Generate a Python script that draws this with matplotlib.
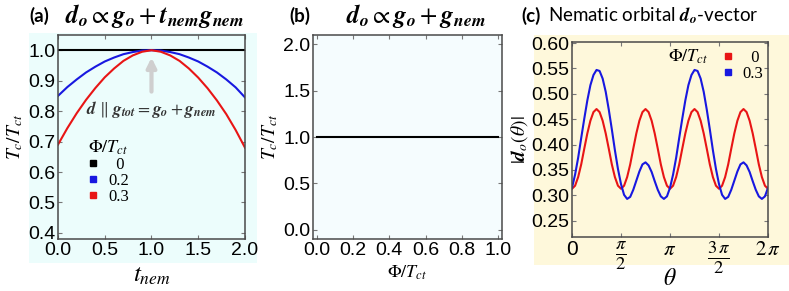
import numpy as np
import matplotlib
matplotlib.use('Agg')
import matplotlib.pyplot as plt
from matplotlib.lines import Line2D
from matplotlib.patches import Rectangle

plt.rcParams['mathtext.fontset'] = 'stix'
plt.rcParams['font.family'] = ['Liberation Sans', 'DejaVu Sans']

# (a) Tc/Tct vs t_nem
t_nem = [0.0, 0.1, 0.2, 0.3, 0.4, 0.5, 0.6, 0.7, 0.8, 0.9, 1.0,
         1.1, 1.2, 1.3, 1.4, 1.5, 1.6, 1.7, 1.8, 1.9, 2.0]
tc_phi0 = [1.0] * 21
tc_phi02 = [0.850, 0.879, 0.904, 0.927, 0.946, 0.963, 0.976, 0.987, 0.994, 0.999, 1.000,
            0.999, 0.994, 0.987, 0.976, 0.963, 0.946, 0.927, 0.904, 0.878, 0.845]
tc_phi03 = [0.690, 0.744, 0.793, 0.837, 0.876, 0.911, 0.940, 0.965, 0.983, 0.995, 1.000,
            0.995, 0.983, 0.965, 0.940, 0.910, 0.875, 0.835, 0.790, 0.738, 0.680]

# (b) Tc/Tct vs Phi/Tct
phi_b = [0.0, 0.2, 0.4, 0.6, 0.8, 1.0]
tc_b = [1.0, 1.0, 1.0, 1.0, 1.0, 1.0]

# (c) |d_o(theta)|, sampled every pi/32
red_period = [0.313, 0.319, 0.336, 0.361, 0.392, 0.422, 0.447, 0.464,
              0.470, 0.464, 0.447, 0.422, 0.392, 0.361, 0.336, 0.319]
blue_period = [0.315, 0.341, 0.374, 0.413, 0.451, 0.487, 0.517, 0.537,
               0.547, 0.545, 0.530, 0.504, 0.469, 0.430, 0.389, 0.352,
               0.322, 0.301, 0.293, 0.297, 0.311, 0.329, 0.347, 0.361,
               0.365, 0.359, 0.346, 0.328, 0.311, 0.298, 0.293, 0.298]
d_phi0 = red_period * 4 + [0.313]
d_phi03 = blue_period * 2 + [0.315]
theta = np.arange(65) * np.pi / 32

red = '#e81515'
blue = '#1818e0'
cyan_bg = '#ecfdfc'
yellow_bg = '#fef8db'
frame = '#4a4a4a'

fig = plt.figure(figsize=(7.89, 2.91), dpi=100)
fig.patches.append(Rectangle((0.037, 0.096), 0.289, 0.790, transform=fig.transFigure,
                             facecolor=cyan_bg, edgecolor='none', zorder=-10))
fig.patches.append(Rectangle((0.677, 0.089), 0.323, 0.790, transform=fig.transFigure,
                             facecolor=yellow_bg, edgecolor='none', zorder=-10))

axa = fig.add_axes([0.0735, 0.1787, 0.237, 0.701])
axb = fig.add_axes([0.3967, 0.1787, 0.2395, 0.701])
axc = fig.add_axes([0.725, 0.1856, 0.2484, 0.670])


def style(ax, bg):
    ax.set_facecolor(bg)
    for s in ax.spines.values():
        s.set_color(frame)
        s.set_linewidth(1.1)
    ax.tick_params(direction='in', length=3, width=0.8, color='#777777',
                   top=True, right=True, labelsize=14, pad=2, labelcolor='black')


# (a)
style(axa, cyan_bg)
axa.plot(t_nem, tc_phi0, color='black', lw=1.5)
axa.plot(t_nem, tc_phi02, color=blue, lw=1.5)
axa.plot(t_nem, tc_phi03, color=red, lw=1.5)
axa.set_xlim(0, 2)
axa.set_ylim(0.38, 1.05)
axa.set_xticks([0, 0.5, 1.0, 1.5, 2.0])
axa.set_xticklabels(['0.0', '0.5', '1.0', '1.5', '2.0'])
axa.set_yticks([0.4, 0.5, 0.6, 0.7, 0.8, 0.9, 1.0])
axa.set_yticklabels(['0.4', '0.5', '0.6', '0.7', '0.8', '0.9', '1.0'])
axa.set_xlabel(r'$t_{nem}$', fontsize=18)
axa.xaxis.set_label_coords(0.5, -0.12)
axa.set_ylabel(r'$T_c/T_{ct}$', fontsize=14, labelpad=2)
axa.annotate('', xy=(1.0, 0.985), xytext=(1.0, 0.855),
             arrowprops=dict(arrowstyle='-|>', color='#cfcfcf', lw=3, mutation_scale=14))
axa.text(1.0, 0.806, r'$\mathbfit{d}\ \Vert\ \mathbfit{g}_{\mathbfit{tot}} = \mathbfit{g}_{\mathbfit{o}} + \mathbfit{g}_{\mathbfit{nem}}$',
         fontsize=12.5, color='#333333', ha='center', va='center')
hands_a = [Line2D([], [], ls='none', marker='s', ms=4.5, color=c) for c in ['black', blue, red]]
leg = axa.legend(hands_a, ['  0', '0.2', '0.3'], title=r'$\Phi/T_{ct}$', loc='upper left',
                 bbox_to_anchor=(0.1, 0.55), frameon=False, title_fontsize=13,
                 handlelength=0.6, handletextpad=0.6, labelspacing=0.0, borderpad=0.2,
                 prop={'family': 'Liberation Serif', 'size': 12})
leg._legend_box.align = 'left'

# (b)
style(axb, '#f5fcfe')
axb.plot(phi_b, tc_b, color='black', lw=1.5)
axb.set_xlim(-0.02, 1.02)
axb.set_ylim(-0.1, 2.1)
axb.set_xticks([0, 0.2, 0.4, 0.6, 0.8, 1.0])
axb.set_xticklabels(['0.0', '0.2', '0.4', '0.6', '0.8', '1.0'])
axb.set_yticks([0, 0.5, 1.0, 1.5, 2.0])
axb.set_yticklabels(['0.0', '0.5', '1.0', '1.5', '2.0'])
axb.set_xlabel(r'$\Phi/T_{ct}$', fontsize=13)
axb.xaxis.set_label_coords(0.5, -0.12)
axb.set_ylabel(r'$T_c/T_{ct}$', fontsize=14, labelpad=2)

# (c)
style(axc, yellow_bg)
axc.plot(theta, d_phi0, color=red, lw=1.5)
axc.plot(theta, d_phi03, color=blue, lw=1.5)
axc.set_xlim(0, 2 * np.pi)
axc.set_ylim(0.218, 0.602)
axc.set_xticks([0, np.pi / 2, np.pi, 3 * np.pi / 2, 2 * np.pi])
axc.set_xticklabels(['0', r'$\frac{\pi}{2}$', r'$\pi$', r'$\frac{3\,\pi}{2}$', r'$2\,\pi$'])
for i, lab in enumerate(axc.get_xticklabels()):
    lab.set_fontsize(19 if i in (1, 3) else 15)
axc.set_yticks([0.25, 0.30, 0.35, 0.40, 0.45, 0.50, 0.55, 0.60])
axc.set_yticklabels(['0.25', '0.30', '0.35', '0.40', '0.45', '0.50', '0.55', '0.60'])
axc.set_xlabel(r'$\theta$', fontsize=17)
axc.xaxis.set_label_coords(0.5, -0.16)
axc.set_ylabel(r'$|\mathbfit{d}_o(\theta)|$', fontsize=14, labelpad=1)
axc.text(0.49, 0.925, r'$\Phi/T_{ct}$', transform=axc.transAxes, fontsize=13,
         ha='left', va='center')
hands_c = [Line2D([], [], ls='none', marker='s', ms=4.5, color=c) for c in [red, blue]]
axc.legend(hands_c, ['  0', '0.3'], loc='upper left', bbox_to_anchor=(0.71, 1.02),
           frameon=False, handlelength=0.6, handletextpad=0.6, labelspacing=0.0,
           borderpad=0.2, prop={'family': 'Liberation Serif', 'size': 12})

# titles
fig.text(0.037, 0.945, '(a)', fontsize=13.5, fontweight='bold', family=['Lato', 'DejaVu Sans'],
         va='center')
fig.text(0.082, 0.945, r'$\mathbfit{d}_{\mathbfit{o}} \propto \mathbfit{g}_{\mathbfit{o}} + \mathbfit{t}_{\mathbfit{nem}}\mathbfit{g}_{\mathbfit{nem}}$',
         fontsize=18, va='center')
fig.text(0.367, 0.945, '(b)', fontsize=13.5, fontweight='bold', family=['Lato', 'DejaVu Sans'],
         va='center')
fig.text(0.438, 0.945, r'$\mathbfit{d}_{\mathbfit{o}} \propto \mathbfit{g}_{\mathbfit{o}} + \mathbfit{g}_{\mathbfit{nem}}$',
         fontsize=18, va='center')
fig.text(0.661, 0.945, '(c)', fontsize=13.5, fontweight='bold', family=['Lato', 'DejaVu Sans'],
         va='center')
fig.text(0.695, 0.945, r'Nematic orbital $\mathbfit{d}_{\mathbfit{o}}$-vector', fontsize=13.5,
         family=['Lato', 'DejaVu Sans'], va='center')

fig.savefig('out.png', dpi=100)
